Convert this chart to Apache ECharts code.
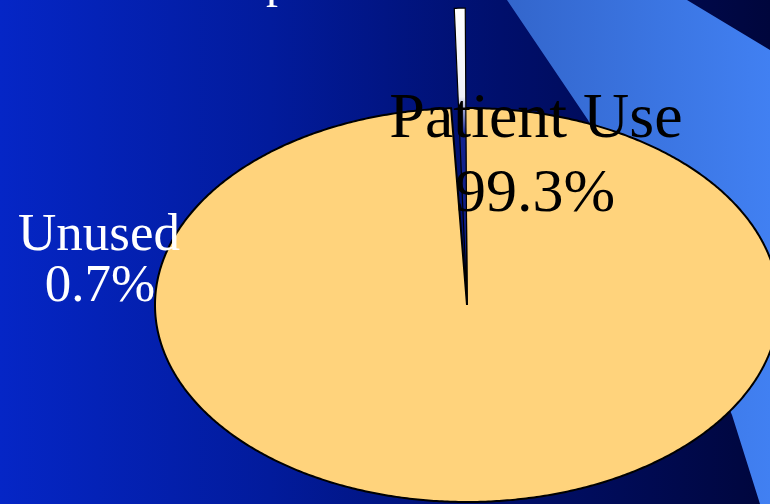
<!DOCTYPE html>
<html>
<head>
<meta charset="utf-8">
<script src="https://cdn.jsdelivr.net/npm/echarts@6/dist/echarts.min.js"></script>
<style>
html,body{margin:0;padding:0;background:#021a9e;}
#chart{width:770px;height:504px;}
</style>
</head>
<body>
<div id="chart"></div>
<script>
// ---- data ----
const categories = ['Patient Use', 'Unused'];
const values = [99.3, 0.7];
const valueLabels = ['99.3%', '0.7%'];

// ---- layout / style (not data) ----
const CX = 467, CY = 305;          // pie centre
const RX = 312, RY = 197;          // ellipse radii
const RX_U = 250, RY_U = 297;      // radii of the pulled-out thin slice
const START = 90.4;                // start angle in degrees, clockwise
const sliceFill = ['#FFD37C', null];
const serif = '"Liberation Serif","DejaVu Serif",serif';

const total = values.reduce((a, b) => a + b, 0);

function arcPoints(a0, a1, rx, ry) {
  const pts = [[CX, CY]];
  const n = Math.max(4, Math.ceil(Math.abs(a1 - a0) / 0.5));
  for (let k = 0; k <= n; k++) {
    const a = (a0 + (a1 - a0) * k / n) * Math.PI / 180;
    pts.push([CX + rx * Math.cos(a), CY - ry * Math.sin(a)]);
  }
  return pts;
}

const labelLayout = [
  { lines: [{ x: 536, y: 120, size: 64 }, { x: 535, y: 195, size: 62 }], color: '#000000' },
  { lines: [{ x: 99, y: 236, size: 53 }, { x: 100, y: 287, size: 53 }], color: '#ffffff' }
];

const chart = echarts.init(document.getElementById('chart'), null, { renderer: 'canvas' });

const option = {
  animation: false,
  graphic: [
    {
      type: 'rect', z: -10, silent: true,
      shape: { x: 0, y: 0, width: 770, height: 504 },
      style: {
        fill: {
          type: 'linear', x: 0, y: 0, x2: 1, y2: 0,
          colorStops: [
            { offset: 0, color: '#0526C6' },
            { offset: 0.35, color: '#021B9C' },
            { offset: 0.65, color: '#000F6C' },
            { offset: 1, color: '#00063C' }
          ]
        }
      }
    },
    {
      type: 'polygon', z: -9, silent: true,
      shape: { points: [[507, 0], [687, 0], [770, 50], [770, 504], [760, 504], [732, 415], [690, 320], [640, 220], [588, 120]] },
      style: {
        fill: {
          type: 'linear', x: 0, y: 0, x2: 1, y2: 0,
          colorStops: [
            { offset: 0, color: '#3366CC' },
            { offset: 1, color: '#4180F2' }
          ]
        }
      }
    },
    {
      type: 'text', z: -8, silent: true,
      style: { text: 'p', x: 278, y: -16, font: '48px ' + serif, fill: '#ffffff', align: 'center', verticalAlign: 'middle' }
    }
  ],
  series: [{
    type: 'custom',
    coordinateSystem: 'none',
    data: categories.map((c, i) => ({ name: c, value: values[i] })),
    renderItem: function (params, api) {
      const i = params.dataIndex;
      let before = 0;
      for (let k = 0; k < i; k++) before += values[k];
      const a0 = START - before / total * 360;
      const a1 = START - (before + values[i]) / total * 360;
      const isThin = i === 1;
      const pts = arcPoints(a0, a1, isThin ? RX_U : RX, isThin ? RY_U : RY);
      const fill = isThin ? {
        type: 'linear', x: 0, y: 0, x2: 0, y2: 1,
        colorStops: [
          { offset: 0, color: '#ffffff' },
          { offset: 0.3, color: '#eef0f8' },
          { offset: 0.42, color: '#14238f' },
          { offset: 1, color: '#0a1a80' }
        ]
      } : sliceFill[i];
      const lay = labelLayout[i];
      const texts = [categories[i], valueLabels[i]];
      const children = [{
        type: 'polygon',
        z2: isThin ? 5 : 1,
        shape: { points: pts },
        style: { fill: fill, stroke: '#000000', lineWidth: isThin ? 1.2 : 2 }
      }];
      lay.lines.forEach((ln, j) => {
        children.push({
          type: 'text', z2: 20,
          style: {
            text: texts[j], x: ln.x, y: ln.y,
            font: ln.size + 'px ' + serif,
            fill: lay.color, align: 'center', verticalAlign: 'middle'
          }
        });
      });
      return { type: 'group', children: children };
    }
  }]
};
chart.setOption(option);
</script>
</body>
</html>
